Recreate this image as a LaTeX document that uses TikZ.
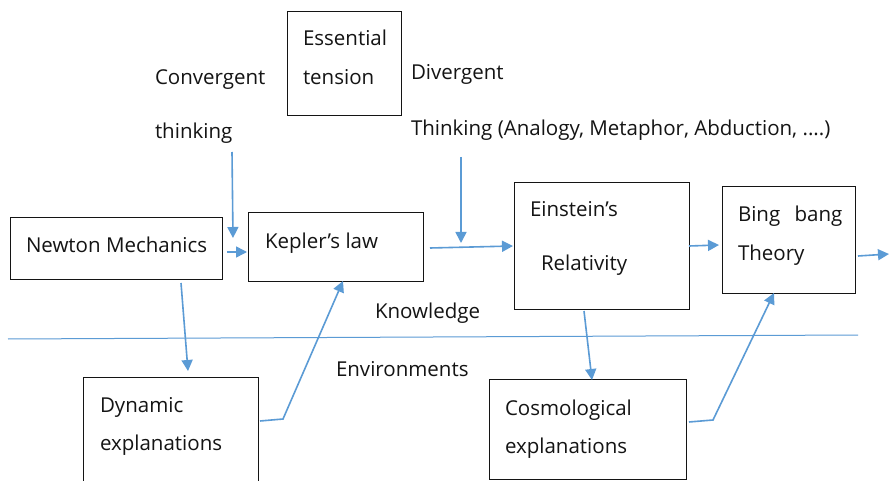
\documentclass[tikz,border=0pt]{standalone}
\usepackage{fontspec}
\setmainfont{Open Sans}
\usetikzlibrary{arrows.meta,calc}
\definecolor{flowblue}{RGB}{91,155,213}
\definecolor{inkgray}{RGB}{20,20,20}
\tikzset{
  box/.style={draw=inkgray,line width=1pt,rectangle,inner sep=0pt,outer sep=0pt,anchor=north west},
  lbl/.style={anchor=base west,inner sep=0pt,outer sep=0pt,text=inkgray,font=\fontsize{20.5}{24}\selectfont},
  arr/.style={draw=flowblue,line width=1.6pt,-{Triangle[length=11pt,width=11pt]}},
  divider/.style={draw=flowblue,line width=1pt}
}
\begin{document}
\begin{tikzpicture}[x=1pt,y=-1pt]
\useasboundingbox[fill=white] (0,0) rectangle (889,481);

% boxes
\node[box,minimum width=212,minimum height=61] (newton) at (10,218) {};
\node[box,minimum width=175,minimum height=68] (kepler) at (248,213) {};
\node[box,minimum width=175,minimum height=126] (einstein) at (514,183) {};
\node[box,minimum width=133,minimum height=106] (bing) at (722,187) {};
\node[box,minimum width=114,minimum height=104] (tension) at (287,12) {};
\node[box,minimum width=175,minimum height=125] (dynamic) at (83,377) {};
\node[box,minimum width=197,minimum height=100.5] (cosmo) at (489,379) {};

% labels
\node[lbl] (tNewton) at (26,253) {Newton Mechanics};
\node[lbl] (tKepler) at (265,248) {Kepler’s law};
\node[lbl] (tEinA) at (530,217) {Einstein’s};
\node[lbl] (tEinB) at (541,270) {Relativity};
\node[lbl] (tBingA) at (738,222) {Bing\hspace{9pt} bang};
\node[lbl] (tBingB) at (738,261) {Theory};
\node[lbl] (tEssA) at (303,46) {Essential};
\node[lbl] (tEssB) at (303,85) {tension};
\node[lbl] (tConA) at (155,85) {Convergent};
\node[lbl] (tConB) at (155,139) {thinking};
\node[lbl] (tDivA) at (411,80) {Divergent};
\node[lbl] (tDivB) at (411,136) {Thinking (Analogy, Metaphor, Abduction, ....)};
\node[lbl] (tKnow) at (375,318) {Knowledge};
\node[lbl] (tEnv) at (336,376) {Environments};
\node[lbl] (tDynA) at (100,412) {Dynamic};
\node[lbl] (tDynB) at (100,450) {explanations};
\node[lbl] (tCosA) at (505,415) {Cosmological};
\node[lbl] (tCosB) at (505,453) {explanations};

% knowledge / environment boundary
\coordinate (divL) at (8,339);
\coordinate (divR) at (858,335);
\draw[divider] (divL) -- (divR);

% free ends
\coordinate (conTop) at (232,152);
\coordinate (divTop) at (461,157);
\coordinate (outEnd) at (889,254);

% main chain
\draw[arr] ($(newton.north east)+(5,34)$) -- ($(kepler.north west)+(-1,39)$);
\draw[arr] (conTop) -- (233,238);
\draw[arr] ($(kepler.north east)+(7,35)$) -- ($(einstein.north west)+(-1,63)$);
\draw[arr] (divTop) -- (461,243);
\draw[arr] ($(einstein.north east)+(0,63)$) -- ($(bing.north west)+(-3,58)$);
\draw[arr] ($(bing.north east)+(3,69)$) -- (outEnd);

% feedback through the environment
\draw[arr] ($(newton.south west)+(171,4)$) -- ($(dynamic.north west)+(105,-6)$);
\draw[arr] ($(dynamic.north east)+(2,44)$) -- (283,419) -- ($(kepler.south west)+(95,0)$);
\draw[arr] ($(einstein.south west)+(70,2)$) -- ($(cosmo.north west)+(103,1)$);
\draw[arr] ($(cosmo.north east)+(3,43)$) -- (713,420) -- ($(bing.south west)+(52,0)$);
\end{tikzpicture}
\end{document}
